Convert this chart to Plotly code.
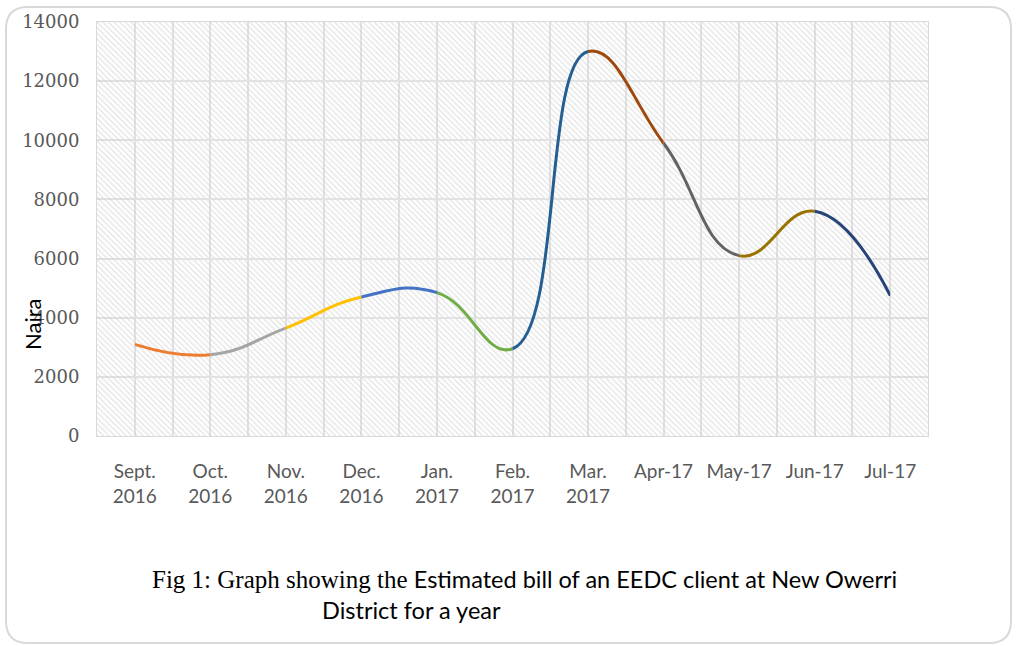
import plotly.graph_objects as go

# ---- data ----
months = ["Sept.<br>2016", "Oct.<br>2016", "Nov.<br>2016", "Dec.<br>2016", "Jan.<br>2017",
          "Feb.<br>2017", "Mar.<br>2017", "Apr-17", "May-17", "Jun-17", "Jul-17"]
bill = [3100, 2750, 3650, 4700, 4850, 2950, 13000, 9900, 6100, 7600, 4750]
segment_colors = ["#ED7D31", "#A5A5A5", "#FFC000", "#4472C4", "#70AD47",
                  "#255E91", "#9E480E", "#636363", "#997300", "#264478"]
y_ticks = [0, 2000, 4000, 6000, 8000, 10000, 12000, 14000]
y_tick_text = [str(v) for v in y_ticks]

W, H = 1016, 646
L, R, T, B = 97, 928, 22, 436   # plot area in pixels
n = len(months)
xpos = list(range(n))
xr = [-0.5, n - 0.5]
yr = [0, 14000]
GRID = "#e2e2e2"

def px_to_paper(px, py):
    return (px - L) / (R - L), (B - py) / (B - T)

fig = go.Figure()

# hatched plot-area background
fig.add_trace(go.Scatter(
    x=[xr[0], xr[1], xr[1], xr[0], xr[0]],
    y=[yr[0], yr[0], yr[1], yr[1], yr[0]],
    mode="lines", line=dict(width=0), fill="toself",
    fillcolor="rgba(0,0,0,0)",
    fillpattern=dict(shape="\\", size=4, solidity=0.35, fgcolor="#cccccc",
                     bgcolor="rgba(0,0,0,0)"),
    hoverinfo="skip", showlegend=False, xaxis="x", yaxis="y"))

# each segment: full smoothed line, clipped to its own sub-axis window
layout_axes = {}
for i, col in enumerate(segment_colors):
    ax = f"x{i + 2}"
    fig.add_trace(go.Scatter(
        x=xpos, y=bill, mode="lines",
        line=dict(color=col, width=3, shape="spline", smoothing=1.3, simplify=False),
        showlegend=False, xaxis=ax, yaxis="y", hoverinfo="skip"))
    d0 = (i + 0.5) / n
    d1 = (i + 1.5) / n
    layout_axes[f"xaxis{i + 2}"] = dict(domain=[d0, d1], range=[i, i + 1], anchor="y",
                                        visible=False, fixedrange=True)

# outer rounded border
def rounded_rect(x0, y0, x1, y1, r):
    def P(px, py):
        a, b = px_to_paper(px, py)
        return f"{a:.5f},{b:.5f}"
    return (f"M {P(x0 + r, y0)} L {P(x1 - r, y0)} Q {P(x1, y0)} {P(x1, y0 + r)} "
            f"L {P(x1, y1 - r)} Q {P(x1, y1)} {P(x1 - r, y1)} "
            f"L {P(x0 + r, y1)} Q {P(x0, y1)} {P(x0, y1 - r)} "
            f"L {P(x0, y0 + r)} Q {P(x0, y0)} {P(x0 + r, y0)} Z")

fig.add_shape(type="path", xref="paper", yref="paper",
              path=rounded_rect(6, 7, 1011, 643, 22),
              line=dict(color="#d9d9d9", width=2), layer="below")

ax_t, ay_t = px_to_paper(33, 325)
c1x, c1y = px_to_paper(150, 579)
c2x, c2y = px_to_paper(320, 610)

fig.update_layout(
    width=W, height=H,
    margin=dict(l=L, r=W - R, t=T, b=H - B),
    paper_bgcolor="white", plot_bgcolor="rgba(0,0,0,0)",
    showlegend=False,
    xaxis=dict(domain=[0, 1], range=xr, tickvals=xpos, ticktext=months,
               showgrid=True, gridcolor=GRID, gridwidth=2,
               minor=dict(tickvals=[v - 0.5 for v in xpos] + [n - 0.5],
                          showgrid=True, gridcolor=GRID, gridwidth=2),
               showline=True, linecolor="#d9d9d9", linewidth=1, mirror=True,
               zeroline=False, ticks="", ticklabelstandoff=18,
               tickfont=dict(family="Lato", size=19, color="#595959"),
               fixedrange=True),
    yaxis=dict(range=yr, tickvals=y_ticks, ticktext=y_tick_text, showgrid=True,
               gridcolor=GRID, gridwidth=2, zeroline=False, showline=True,
               linecolor="#d9d9d9", linewidth=1, mirror=True, ticks="",
               ticklabelstandoff=13,
               tickfont=dict(family="DejaVu Serif", size=18, color="#595959"),
               anchor="x", fixedrange=True),
    annotations=[
        dict(text="Naira", x=ax_t, y=ay_t, xref="paper", yref="paper",
             textangle=-90, showarrow=False, xanchor="center", yanchor="middle",
             font=dict(family="Lato", size=22, color="black")),
        dict(text=('<span style="font-family:Liberation Serif;font-size:25px">'
                   'Fig 1: Graph showing the </span>'
                   'Estimated bill of an EEDC client at New Owerri'),
             x=c1x, y=c1y, xref="paper", yref="paper", showarrow=False,
             xanchor="left", yanchor="middle",
             font=dict(family="Lato", size=23.5, color="black")),
        dict(text="District for a year", x=c2x, y=c2y, xref="paper", yref="paper",
             showarrow=False, xanchor="left", yanchor="middle",
             font=dict(family="Lato", size=23.5, color="black")),
    ],
    **layout_axes,
)

fig.write_html("out.html")
